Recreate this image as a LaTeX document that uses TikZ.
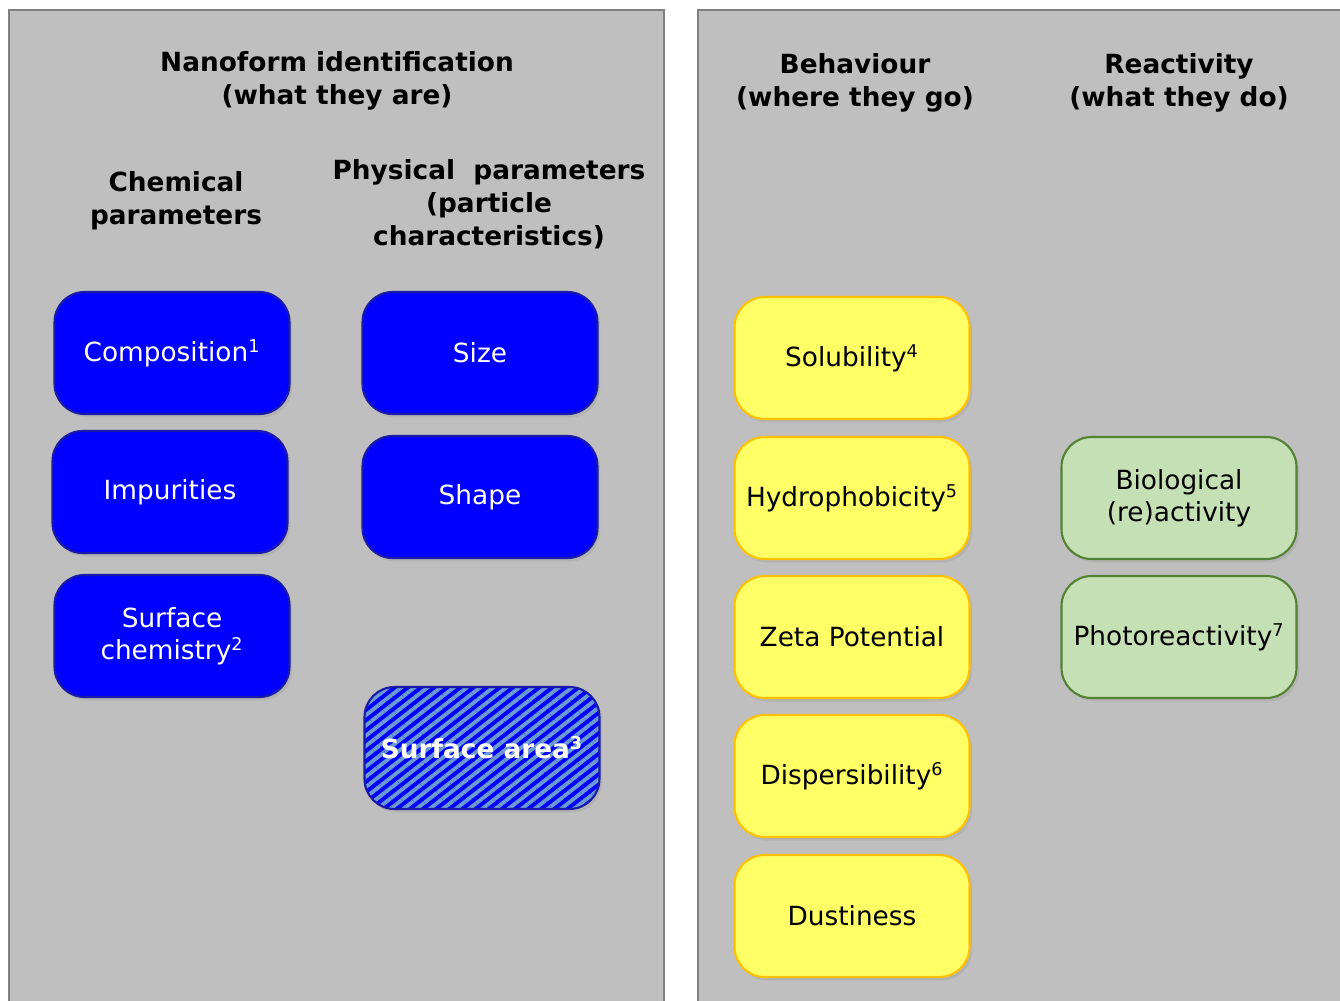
\documentclass[tikz,border=0pt]{standalone}
\usepackage{fontspec}
\setmainfont{DejaVu Sans}
\usetikzlibrary{shadows,patterns.meta}
\definecolor{panelgray}{HTML}{BFBFBF}
\definecolor{panelline}{HTML}{808080}
\definecolor{boxblue}{HTML}{0000FF}
\definecolor{boxblueline}{HTML}{1A1AA6}
\definecolor{stripeblue}{HTML}{6C9BD2}
\definecolor{boxyellow}{HTML}{FFFF66}
\definecolor{boxyellowline}{HTML}{FFC000}
\definecolor{boxgreen}{HTML}{C5E0B4}
\definecolor{boxgreenline}{HTML}{548235}
\tikzset{every node/.style={font=\fontsize{15}{18.5}\selectfont, align=center, inner sep=2pt},
  heading/.style={font=\fontsize{15}{18.8}\bfseries\selectfont},
  param/.style={rounded corners=0.6cm, minimum width=4.7cm, minimum height=2.44cm, line width=1.2pt,
    drop shadow={opacity=0.18, shadow xshift=1.5pt, shadow yshift=-2pt}},
  chem/.style={param, fill=boxblue, draw=boxblueline, text=white},
  behav/.style={param, fill=boxyellow, draw=boxyellowline},
  react/.style={param, fill=boxgreen, draw=boxgreenline}}
\newcommand{\fnmark}[1]{\textsuperscript{\fontsize{10}{10}\selectfont #1}}

\begin{document}
\begin{tikzpicture}[x=0.02cm,y=-0.02cm]
     \path[clip] (0,0) rectangle (1340,1001);
     \fill[white] (0,0) rectangle (1340,1001);
     % left panel
     \begin{scope}
      \filldraw[fill=panelgray, draw=panelline, line width=1.2pt] (9,10) rectangle (664,1030);
      \node[heading] (nanoform) at (337,81) {Nanoform identification\\(what they are)};
      \node[heading] (chemical) at (176,201) {Chemical\\parameters};
      \node[heading] (physical) at (489,204) {Physical\ \ parameters\\(particle\\characteristics)};
      \node[chem] (composition) at (172,353) {Composition\fnmark{1}};
      \node[chem] (impurities) at (170,492) {Impurities};
      \node[chem] (surfchem) at (172,636) {Surface\\chemistry\fnmark{2}};
      \node[chem] (size) at (480,353) {Size};
      \node[chem] (shape) at (480,497) {Shape};
      \node[chem, preaction={fill=boxblue}, pattern={Lines[angle=38, distance=4.6pt, line width=2.2pt]},
        pattern color=stripeblue, font=\fontsize{15}{18.5}\bfseries\selectfont] (surfarea) at (482,748) {Surface area\fnmark{3}};
     \end{scope}
     % right panel
     \begin{scope}
      \filldraw[fill=panelgray, draw=panelline, line width=1.2pt] (698,10) rectangle (1360,1030);
      \node[heading] (behaviour) at (855,83) {Behaviour\\(where they go)};
      \node[heading] (reactivity) at (1179,83) {Reactivity\\(what they do)};
      \node[behav] (solubility) at (852,358) {Solubility\fnmark{4}};
      \node[behav] (hydrophobicity) at (852,498) {Hydrophobicity\fnmark{5}};
      \node[behav] (zeta) at (852,637) {Zeta Potential};
      \node[behav] (dispersibility) at (852,776) {Dispersibility\fnmark{6}};
      \node[behav] (dustiness) at (852,916) {Dustiness};
      \node[react] (biological) at (1179,498) {Biological\\(re)activity};
      \node[react] (photo) at (1179,637) {Photoreactivity\fnmark{7}};
     \end{scope}
\end{tikzpicture}
\end{document}
